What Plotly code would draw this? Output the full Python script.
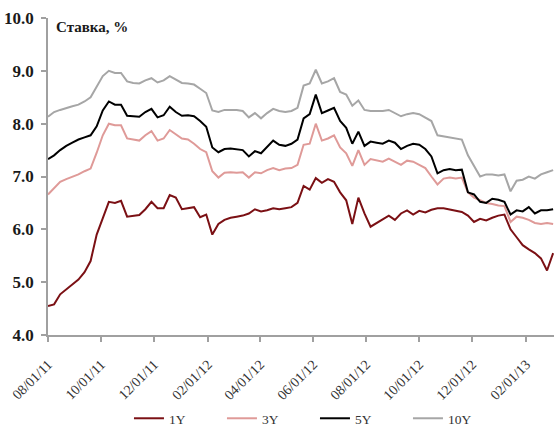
import pandas as pd
import plotly.graph_objects as go

# Weekly observations, Monday dates starting 1 Aug 2011
dates = pd.date_range("2011-08-01", periods=84, freq="7D")

rate_1y = [
    4.55, 4.58, 4.77, 4.86, 4.95, 5.05, 5.19, 5.40, 5.90, 6.22,
    6.52, 6.50, 6.54, 6.24, 6.25, 6.27, 6.38, 6.52, 6.40, 6.40,
    6.65, 6.60, 6.38, 6.40, 6.42, 6.23, 6.28, 5.90, 6.10, 6.18,
    6.22, 6.24, 6.26, 6.30, 6.38, 6.34, 6.36, 6.40, 6.38, 6.40,
    6.42, 6.50, 6.82, 6.75, 6.97, 6.88, 6.95, 6.90, 6.70, 6.55,
    6.10, 6.60, 6.30, 6.05, 6.12, 6.20, 6.26, 6.18, 6.30, 6.36,
    6.28, 6.35, 6.32, 6.37, 6.40, 6.40, 6.38, 6.35, 6.33, 6.26,
    6.14, 6.20, 6.17, 6.22, 6.26, 6.28, 6.00, 5.85, 5.70, 5.62,
    5.55, 5.45, 5.22, 5.55,
]
rate_3y = [
    6.66, 6.78, 6.90, 6.95, 6.99, 7.04, 7.10, 7.15, 7.45, 7.78,
    8.00, 7.97, 7.97, 7.72, 7.70, 7.68, 7.78, 7.86, 7.68, 7.72,
    7.88, 7.80, 7.72, 7.70, 7.62, 7.52, 7.46, 7.10, 6.98, 7.07,
    7.08, 7.07, 7.08, 6.98, 7.08, 7.06, 7.12, 7.16, 7.12, 7.15,
    7.16, 7.22, 7.60, 7.62, 8.00, 7.68, 7.72, 7.78, 7.55, 7.44,
    7.20, 7.50, 7.22, 7.33, 7.30, 7.28, 7.34, 7.28, 7.22, 7.30,
    7.28, 7.22, 7.16, 7.00, 6.85, 6.96, 6.98, 6.96, 6.98, 6.70,
    6.60, 6.55, 6.50, 6.48, 6.45, 6.44, 6.14, 6.24, 6.22, 6.18,
    6.12, 6.10, 6.12, 6.10,
]
rate_5y = [
    7.33, 7.40, 7.50, 7.58, 7.64, 7.70, 7.74, 7.78, 7.95, 8.25,
    8.42, 8.36, 8.36, 8.15, 8.14, 8.13, 8.22, 8.28, 8.12, 8.16,
    8.32, 8.22, 8.15, 8.16, 8.14, 8.05, 7.94, 7.55, 7.46, 7.52,
    7.53, 7.52, 7.50, 7.38, 7.48, 7.44, 7.56, 7.68, 7.60, 7.58,
    7.62, 7.70, 8.10, 8.18, 8.55, 8.20, 8.25, 8.30, 8.05, 7.92,
    7.62, 7.85, 7.58, 7.66, 7.64, 7.62, 7.68, 7.64, 7.52, 7.58,
    7.62, 7.60, 7.52, 7.38, 7.06, 7.12, 7.14, 7.12, 7.13, 6.70,
    6.66, 6.52, 6.50, 6.58, 6.56, 6.52, 6.28, 6.36, 6.34, 6.42,
    6.30, 6.36, 6.36, 6.38,
]
rate_10y = [
    8.13, 8.22, 8.26, 8.30, 8.33, 8.36, 8.42, 8.50, 8.70, 8.90,
    9.00, 8.96, 8.96, 8.80, 8.77, 8.76, 8.82, 8.86, 8.78, 8.82,
    8.90, 8.84, 8.77, 8.76, 8.74, 8.66, 8.58, 8.25, 8.22, 8.26,
    8.26, 8.26, 8.24, 8.12, 8.20, 8.10, 8.20, 8.28, 8.24, 8.22,
    8.24, 8.30, 8.72, 8.76, 9.02, 8.76, 8.80, 8.86, 8.60, 8.55,
    8.34, 8.44, 8.26, 8.24, 8.24, 8.24, 8.26, 8.20, 8.14, 8.18,
    8.20, 8.18, 8.12, 8.05, 7.78, 7.76, 7.74, 7.72, 7.70, 7.40,
    7.20, 7.00, 7.04, 7.04, 7.02, 7.04, 6.72, 6.92, 6.94, 7.00,
    6.96, 7.04, 7.08, 7.12,
]

series_names = ["1Y", "3Y", "5Y", "10Y"]
series_values = [rate_1y, rate_3y, rate_5y, rate_10y]
series_colors = ["#7b1014", "#df9a98", "#000000", "#a6a6a6"]

tick_dates = ["2011-08-01", "2011-10-01", "2011-12-01", "2012-02-01",
              "2012-04-01", "2012-06-01", "2012-08-01", "2012-10-01",
              "2012-12-01", "2013-02-01"]
tick_labels = ["08/01/11", "10/01/11", "12/01/11", "02/01/12", "04/01/12",
               "06/01/12", "08/01/12", "10/01/12", "12/01/12", "02/01/13"]
y_ticks = [4, 5, 6, 7, 8, 9, 10]
y_labels = ["4.0", "5.0", "6.0", "7.0", "8.0", "9.0", "10.0"]

SERIF = "Liberation Serif, Times New Roman, serif"

fig = go.Figure()
for name, vals, col in zip(series_names, series_values, series_colors):
    fig.add_trace(go.Scatter(
        x=dates, y=vals, name=name, mode="lines",
        line=dict(color=col, width=2),
    ))

fig.update_layout(
    width=554, height=434,
    margin=dict(l=48, r=0, t=18, b=98),
    paper_bgcolor="white", plot_bgcolor="white",
    showlegend=True,
    legend=dict(
        orientation="h", x=0.16, xanchor="left", y=-0.262, yanchor="middle",
        font=dict(family=SERIF, size=13.5, color="#333333"),
        entrywidth=48, entrywidthmode="pixels",
        bgcolor="rgba(0,0,0,0)",
    ),
    xaxis=dict(
        type="date", range=["2011-08-01", "2013-03-05"],
        tickmode="array", tickvals=tick_dates, ticktext=tick_labels,
        tickangle=-45, ticks="outside", ticklen=5, tickwidth=1.5,
        tickcolor="#a0a0a0", showline=True, linecolor="#a0a0a0",
        linewidth=1.5, showgrid=False, zeroline=False,
        ticklabelstandoff=9,
        tickfont=dict(family=SERIF, size=14, color="#333333"),
    ),
    yaxis=dict(
        range=[4, 10], tickmode="array", tickvals=y_ticks, ticktext=y_labels,
        ticks="outside", ticklen=5, tickwidth=1.5, tickcolor="#a0a0a0",
        showline=True, linecolor="#a0a0a0", linewidth=1.5,
        showgrid=False, zeroline=False, ticklabelstandoff=4,
        tickfont=dict(family=SERIF, size=17, color="#1a1a1a", weight="bold"),
    ),
    annotations=[dict(
        text="<b>Ставка, %</b>", xref="paper", yref="paper",
        x=0.012, y=0.972, xanchor="left", yanchor="middle", showarrow=False,
        font=dict(family=SERIF, size=15, color="#1a1a1a"),
    )],
)

fig.write_html("out.html")
